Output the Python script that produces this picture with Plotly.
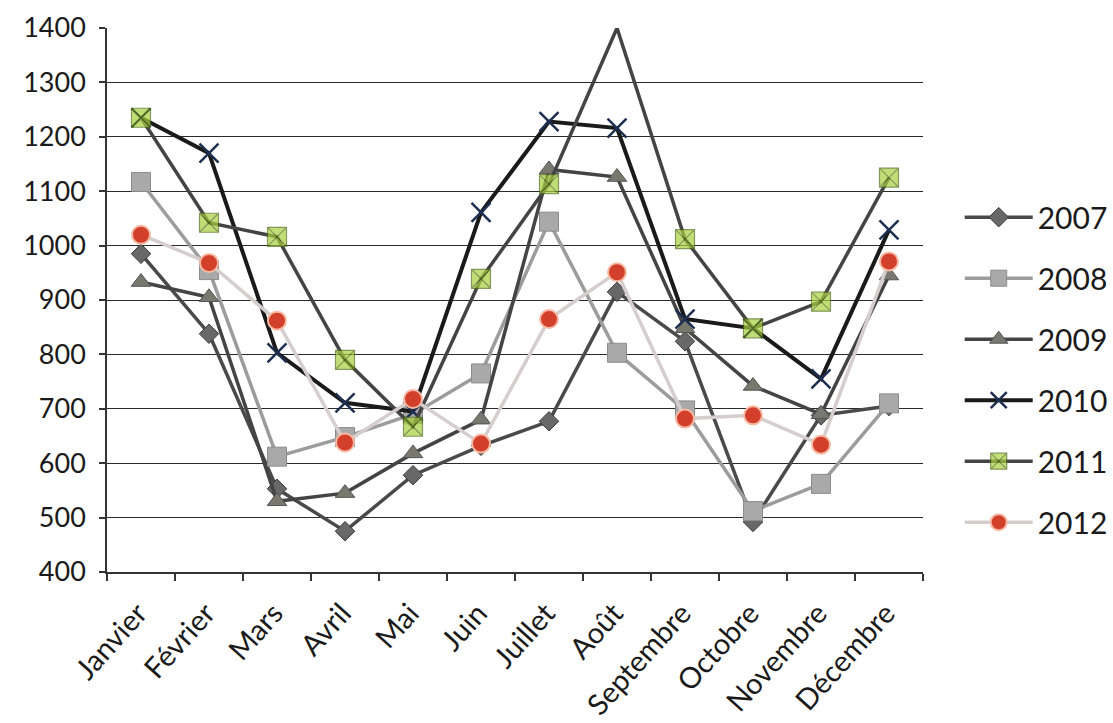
import plotly.graph_objects as go

months = ["Janvier", "Février", "Mars", "Avril", "Mai", "Juin", "Juillet",
          "Août", "Septembre", "Octobre", "Novembre", "Décembre"]

y2007 = [985, 838, 553, 475, 578, 632, 677, 915, 824, 492, 688, 705]
y2008 = [1117, 955, 612, 648, 690, 765, 1044, 803, 697, 512, 562, 710]
y2009 = [933, 905, 530, 545, 618, 680, 1140, 1126, 848, 742, 690, 945]
y2010 = [1235, 1170, 803, 711, 695, 1061, 1228, 1216, 865, 848, 755, 1029]
y2011 = [1235, 1042, 1016, 790, 667, 939, 1113, 1400, 1012, 848, 897, 1125]
y2012 = [1020, 968, 862, 638, 718, 636, 865, 951, 682, 688, 634, 971]

y_ticks = [400, 500, 600, 700, 800, 900, 1000, 1100, 1200, 1300, 1400]

FONT = "Lato"

series = [
    ("2007", y2007, dict(color="#4a4a4a", width=3.5),
     dict(symbol="diamond", size=15, color="#686868", line=dict(color="#3c3c3c", width=1))),
    ("2008", y2008, dict(color="#9c9c9c", width=3.5),
     dict(symbol="square", size=19, color="#a9a9a9", line=dict(color="#8c8c8c", width=1))),
    ("2009", y2009, dict(color="#444444", width=3.5),
     dict(symbol="triangle-up", size=17, color="#78786e", line=dict(color="#555555", width=1))),
    ("2010", y2010, dict(color="#1a1a1a", width=4),
     dict(symbol="x-thin-open", size=19, color="#1e2f52", line=dict(color="#1e2f52", width=2.5))),
    ("2011", y2011, dict(color="#444444", width=3.5),
     dict(symbol="square-x", size=[19] * 7 + [0] + [19] * 4, color="#a8cf3c",
          line=dict(color="#4f6e14", width=1.2))),
    ("2012", y2012, dict(color="#d6cdcd", width=3.5),
     dict(symbol="circle", size=18, color="#d23f2b", line=dict(color="#f6b9a2", width=2))),
]

fig = go.Figure()
for name, vals, ln, mk in series:
    fig.add_trace(go.Scatter(
        x=months, y=vals, name=name, mode="lines+markers",
        line=ln, marker=mk, legendgroup=name,
    ))

fig.update_layout(
    width=1113, height=723,
    margin=dict(l=107, r=190, t=28, b=151, autoexpand=False),
    paper_bgcolor="white", plot_bgcolor="white",
    font=dict(family=FONT, color="#1a1a1a", size=26),
    showlegend=True,
    legend=dict(
        x=1.045, xanchor="left", y=0.70, yanchor="top",
        font=dict(family=FONT, size=30, color="#1a1a1a"),
        itemwidth=68, tracegroupgap=19, traceorder="grouped",
        bgcolor="rgba(0,0,0,0)",
    ),
)

fig.update_xaxes(
    type="category", range=[-0.5, 11.5], tickangle=-48, automargin=False,
    tickson="boundaries", ticks="outside", ticklen=7, tickwidth=1.5, tickcolor="#333",
    showline=True, linecolor="#333", linewidth=1.5, showgrid=False,
    tickfont=dict(family=FONT, size=29, color="#1a1a1a"),
    ticklabelshift=-3, ticklabelstandoff=11,
)
fig.update_yaxes(
    range=[400, 1400], tickvals=y_ticks, ticks="outside", ticklen=6, tickwidth=1.5,
    tickcolor="#333", showline=True, linecolor="#333", linewidth=1.5, automargin=False,
    showgrid=True, gridcolor="#2a2a2a", gridwidth=1.3, zeroline=False,
    tickfont=dict(family=FONT, size=27, color="#1a1a1a"), ticklabelstandoff=8,
)

fig.write_html(
    "out.html",
    config={"displayModeBar": False},
    post_script="document.body.style.margin='0';document.body.style.overflow='hidden';",
)
